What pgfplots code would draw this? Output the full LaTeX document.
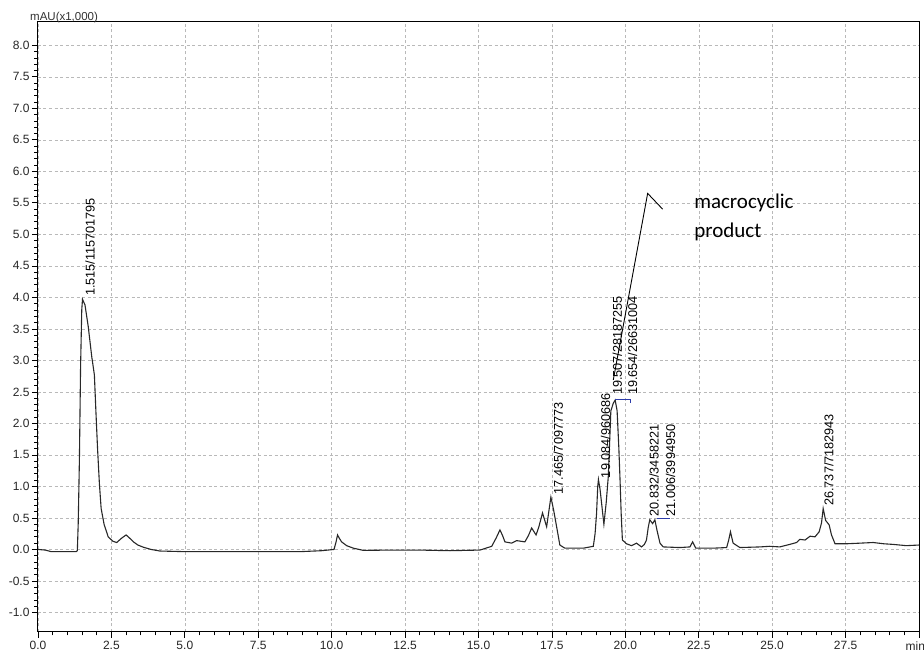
\documentclass[border=0pt]{standalone}
\usepackage{fontspec}
\setmainfont{Liberation Sans}
\newfontfamily\annofont{Carlito}
\usepackage{pgfplots}
\pgfplotsset{compat=1.18}

% detector trace: retention time (min) vs absorbance (mAU x 1000)
\pgfplotstableread{
t y
0.00 0.00
0.25 -0.01
0.45 -0.035
1.30 -0.035
1.34 -0.02
1.37 0.42
1.41 1.42
1.45 2.90
1.49 3.80
1.515 3.97
1.60 3.88
1.71 3.54
1.83 3.06
1.92 2.77
1.97 2.21
2.03 1.58
2.09 1.05
2.15 0.65
2.25 0.40
2.39 0.20
2.55 0.13
2.68 0.11
2.85 0.18
3.00 0.23
3.12 0.18
3.25 0.12
3.40 0.07
3.59 0.035
3.85 0.00
4.15 -0.025
5.00 -0.035
7.00 -0.035
8.92 -0.035
9.66 -0.02
10.08 0.00
10.15 0.12
10.20 0.23
10.27 0.17
10.34 0.12
10.51 0.06
10.74 0.02
11.08 -0.015
12.00 -0.01
13.00 -0.01
14.03 -0.02
15.05 -0.01
15.45 0.05
15.60 0.18
15.73 0.31
15.82 0.22
15.90 0.12
16.13 0.10
16.30 0.14
16.58 0.12
16.70 0.22
16.81 0.34
16.96 0.23
17.05 0.35
17.18 0.58
17.32 0.36
17.40 0.62
17.465 0.83
17.56 0.62
17.66 0.36
17.77 0.07
17.94 0.02
18.57 0.02
18.91 0.05
18.97 0.25
19.02 0.57
19.06 1.00
19.084 1.11
19.14 0.95
19.27 0.40
19.35 0.75
19.42 1.16
19.507 2.20
19.59 2.32
19.654 2.37
19.72 2.20
19.78 1.60
19.82 1.10
19.86 0.55
19.90 0.15
20.04 0.09
20.21 0.06
20.38 0.10
20.55 0.04
20.65 0.08
20.72 0.15
20.78 0.35
20.832 0.47
20.93 0.41
21.006 0.47
21.08 0.30
21.18 0.10
21.29 0.04
21.86 0.03
22.20 0.04
22.29 0.12
22.40 0.02
22.99 0.02
23.45 0.03
23.52 0.15
23.58 0.28
23.67 0.10
23.90 0.03
24.58 0.04
24.92 0.05
25.26 0.04
25.60 0.08
25.83 0.11
25.94 0.16
26.12 0.15
26.29 0.21
26.46 0.20
26.60 0.28
26.68 0.42
26.737 0.65
26.82 0.46
26.94 0.39
27.02 0.23
27.14 0.09
27.53 0.09
28.00 0.10
28.44 0.11
28.80 0.09
29.12 0.08
29.57 0.06
30.00 0.07
}\trace

\definecolor{tracecol}{RGB}{40,40,40}
\definecolor{gridcol}{RGB}{185,185,185}
\definecolor{intcol}{RGB}{45,60,170}

\begin{document}
\begin{tikzpicture}
\useasboundingbox (-38pt,-26pt) rectangle (886pt,632pt);
\begin{axis}[
  at={(0pt,0pt)}, anchor=south west,
  scale only axis, width=881pt, height=610pt,
  xmin=0, xmax=30, ymin=-1.31, ymax=8.37,
  xtick={0,2.5,5,7.5,10,12.5,15,17.5,20,22.5,25,27.5,30},
  xticklabels={0.0,2.5,5.0,7.5,10.0,12.5,15.0,17.5,20.0,22.5,25.0,27.5,\makebox[0pt][r]{min\hspace{-6pt}}},
  ytick={-1,-0.5,0,0.5,1,1.5,2,2.5,3,3.5,4,4.5,5,5.5,6,6.5,7,7.5,8},
  minor x tick num=4, minor y tick num=4,
  tick align=outside, tick pos=left,
  major tick length=6pt, minor tick length=3.5pt,
  tick style={black, line width=0.7pt},
  grid=major,
  major grid style={gridcol, line width=0.5pt, dash pattern=on 3pt off 2.5pt},
  axis line style={black, line width=1pt},
  ticklabel style={font=\fontsize{12}{13}\selectfont, text=black!85},
  yticklabel style={xshift=1pt, /pgf/number format/fixed, /pgf/number format/precision=1,
    /pgf/number format/fixed zerofill},
  /pgf/number format/assume math mode=true,
  clip=false,
]
\addplot[tracecol, line width=1.1pt, mark=none] table[x=t, y=y] {\trace};

% integration baseline marks
\addplot[intcol, line width=0.8pt, mark=none] coordinates {(19.65,2.38) (20.16,2.38) (20.16,2.32)};
\addplot[intcol, line width=0.8pt, mark=none] coordinates {(21.07,0.50) (21.52,0.50)};

% peak labels: retention time / area
\begin{scope}[every node/.style={rotate=90, anchor=west, inner sep=0pt,
    font=\fontsize{12.7}{13}\selectfont}]
\node at (axis cs:1.77,4.02) {1.515/115701795};
\node at (axis cs:17.72,0.87) {17.465/7097773};
\node at (axis cs:19.33,1.13) {19.084/960686};
\node at (axis cs:19.73,2.45) {19.507/28187255};
\node at (axis cs:20.25,2.45) {19.654/26631004};
\node at (axis cs:20.98,0.52) {20.832/3458221};
\node at (axis cs:21.54,0.52) {21.006/3994950};
\node at (axis cs:26.93,0.69) {26.737/7182943};
\end{scope}

% annotation
\draw[black, line width=0.9pt] (axis cs:19.59,2.69) -- (axis cs:20.76,5.65) -- (axis cs:21.27,5.40);
\node[anchor=west, align=left, inner sep=0pt, font=\annofont\fontsize{21}{29}\selectfont]
  at (axis cs:22.34,5.27) {macrocyclic\\product};

\node[anchor=base west, inner sep=0pt, font=\fontsize{11.5}{12}\selectfont, text=black!80]
  at ([xshift=-8pt,yshift=1.5pt]rel axis cs:0,1) {mAU(x1,000)};
\end{axis}
\end{tikzpicture}
\end{document}
